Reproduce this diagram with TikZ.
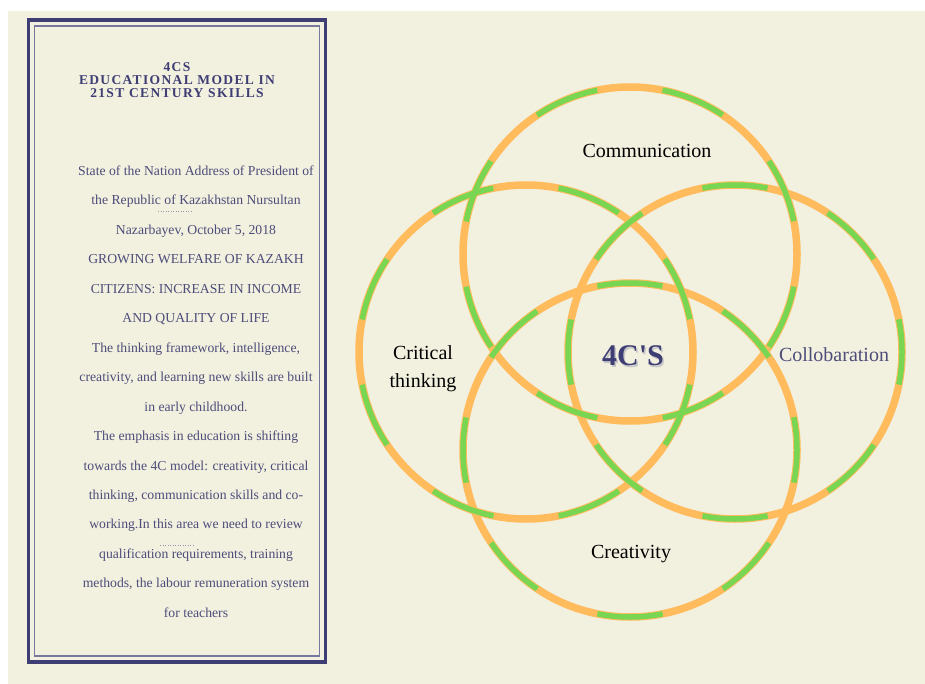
\documentclass[tikz,border=0pt]{standalone}
\usepackage{fontspec}
\setmainfont{Liberation Serif}
\usetikzlibrary{positioning}

\definecolor{paper}{HTML}{F2F0DF}
\definecolor{ink}{HTML}{3E3E74}
\definecolor{inktext}{HTML}{4D4D7A}
\definecolor{ringorange}{HTML}{FFBB5C}
\definecolor{ringgreen}{HTML}{78D652}

\begin{document}
\begin{tikzpicture}[x=1pt,y=-1pt,
    ring/.style={ringorange, line width=7.5pt},
    ringdash/.style={ringgreen, line width=5.5pt, dash pattern=on 65.58pt off 65.58pt},
    skill/.style={font=\fontsize{20}{28}\selectfont, align=center, inner sep=0pt},
    panel/.style={inktext, align=center, inner sep=0pt, font=\fontsize{13.7}{29.47}\selectfont}]
    \useasboundingbox (0,0) rectangle (925,684);
    \fill[white] (0,0) rectangle (925,684);
    \fill[paper] (8,11) rectangle (925,684);

    % text panel
    \draw[ink, line width=3.5pt] (28.5,20) rectangle (325.5,662);
    \draw[ink!70, line width=1.2pt] (34.5,26) rectangle (319.5,656);
    \node[ink, anchor=north, align=center, inner sep=0pt,
        font=\bfseries\fontsize{13.5}{12.8}\selectfont\addfontfeature{LetterSpace=10}]
        (title) at (177,62.5) {4CS\\EDUCATIONAL MODEL IN\\21ST CENTURY SKILLS};
    \node[panel, anchor=north] (address) at (196,165.5) {%
        State of the Nation Address of President of\\
        the Republic of Kazakhstan Nursultan\\
        Nazarbayev, October 5, 2018\\
        GROWING WELFARE OF KAZAKH\\
        CITIZENS: INCREASE IN INCOME\\
        AND QUALITY OF LIFE\\
        The thinking framework, intelligence,\\
        creativity, and learning new skills are built\\
        in early childhood.\\
        The emphasis in education is shifting\\
        towards the 4C model: creativity, critical\\
        thinking, communication skills and co-\\
        working.In this area we need to review\\
        qualification requirements, training\\
        methods, the labour remuneration system\\
        for teachers};
    \draw[inktext!60, dotted, line width=0.5pt] (158,211) -- (193,211);
    \draw[inktext!60, dotted, line width=0.5pt] (160,545) -- (193,545);

    % four rings
    \coordinate (top) at (630,254);
    \coordinate (left) at (526,352);
    \coordinate (right) at (735,352);
    \coordinate (bottom) at (630,450);
    \draw[ring] (top) circle (167);
    \draw[ring] (left) circle (167);
    \draw[ring] (right) circle (167);
    \draw[ring] (bottom) circle (167);
    \draw[ringdash, dash phase=98.4pt] (top) circle (167);
    \draw[ringdash, dash phase=98.4pt] (left) circle (167);
    \draw[ringdash, dash phase=32.8pt] (right) circle (167);
    \draw[ringdash, dash phase=32.8pt] (bottom) circle (167);

    \node[skill] (communication) at (647,151) {Communication};
    \node[skill] (critical) at (423,369) {Critical\\thinking};
    \node[skill, inktext] (collaboration) at (834,355) {Collobaration};
    \node[skill] (creativity) at (631,554) {Creativity};
    \node[gray!45, font=\bfseries\fontsize{30}{30}\selectfont] (coreshadow) at (634.5,357.5) {4C\textquotesingle S};
    \node[ink, font=\bfseries\fontsize{30}{30}\selectfont] (core) at (633,356) {4C\textquotesingle S};
\end{tikzpicture}
\end{document}
